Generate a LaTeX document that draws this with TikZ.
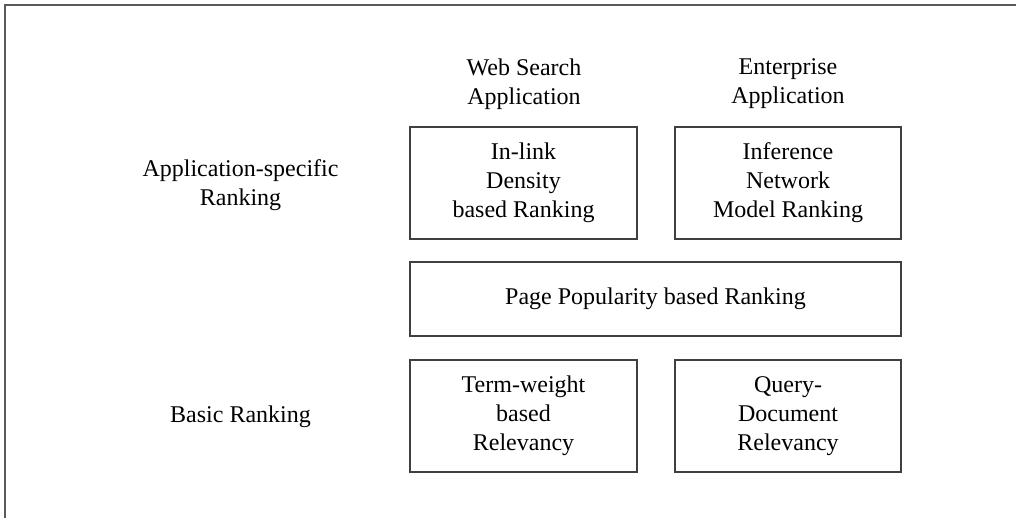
\documentclass[tikz,border=0pt]{standalone}
\usepackage{fontspec}
\setmainfont{Liberation Serif}
\begin{document}
\begin{tikzpicture}[x=1pt,y=-1pt,
  txt/.style={align=center,font=\fontsize{24}{29}\selectfont,inner sep=0pt},
  boxnode/.style={draw=black!75,line width=1.3pt,anchor=center,inner sep=0pt}]
\useasboundingbox (0,0) rectangle (1016,518);
\draw[black!65,line width=2pt] (5,518) -- (5,5) -- (1016,5);
\node[boxnode,minimum width=227pt,minimum height=112pt] (inlink) at (523.5,183) {};
\node[boxnode,minimum width=226pt,minimum height=112pt] (infer) at (788,183) {};
\node[boxnode,minimum width=491pt,minimum height=74pt] (page) at (655.5,299) {};
\node[boxnode,minimum width=227pt,minimum height=112pt] (term) at (523.5,416) {};
\node[boxnode,minimum width=226pt,minimum height=112pt] (query) at (788,416) {};
\node[txt] (inlinkt) at (inlink.center) {In-link\\Density\\based Ranking};
\node[txt] (infert) at (infer.center) {Inference\\Network\\Model Ranking};
\node[txt] (paget) at (page.center) {Page Popularity based Ranking};
\node[txt] (termt) at (term.center) {Term-weight\\based\\Relevancy};
\node[txt] (queryt) at (query.center) {Query-\\Document\\Relevancy};
\node[txt] (web) at (524,84) {Web Search\\Application};
\node[txt] (ent) at (788,84) {Enterprise\\Application};
\node[txt] (appspec) at (240.5,185) {Application-specific\\Ranking};
\node[txt] (basic) at (240.5,417) {Basic Ranking};
\end{tikzpicture}
\end{document}
